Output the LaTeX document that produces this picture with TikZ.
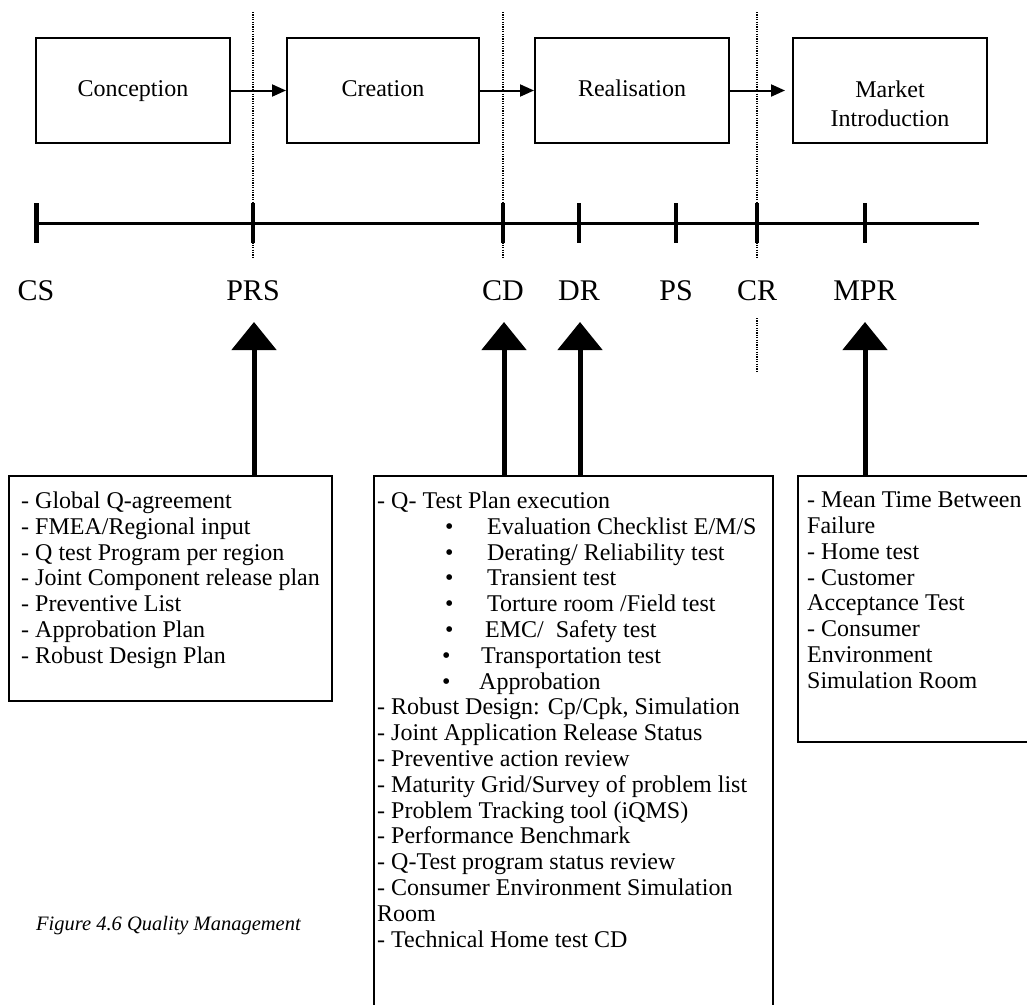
\documentclass[tikz,border=0pt]{standalone}
\usepackage{fontspec}
\setmainfont{Liberation Serif}
\usetikzlibrary{arrows.meta}
\begin{document}
\begin{tikzpicture}[x=1pt,y=-1pt,
  stage/.style={draw, line width=2pt, minimum width=194pt, minimum height=105pt, inner sep=0pt},
  stagetxt/.style={font=\fontsize{24}{29}\selectfont, align=center, inner sep=0pt},
  flow/.style={line width=2pt, -{Triangle[length=14pt,width=12pt]}},
  guide/.style={line width=1.2pt, dash pattern=on 1.2pt off 1.2pt},
  axis/.style={line width=3pt},
  tickmark/.style={line width=4pt},
  milestone/.style={font=\fontsize{30}{30}\selectfont, inner sep=0pt, anchor=base},
  feed/.style={line width=5pt, -{Triangle[length=28pt,width=44pt]}},
  listbox/.style={draw, line width=1.8pt, inner sep=0pt, anchor=north west},
  listtxt/.style={font=\fontsize{24}{25.8}\selectfont, align=left, inner sep=0pt, anchor=north west},
]
\useasboundingbox (0,0) rectangle (1027,1004);
\clip (0,0) rectangle (1027,1004);

% phase boxes
\node[stage] (conc) at (133,90.5) {};
\node[stage, minimum width=192pt] (crea) at (383,90.5) {};
\node[stage] (real) at (632,90.5) {};
\node[stage] (mkt) at (890,90.5) {};
\node[stagetxt, anchor=base] (conc-t) at (133,96) {Conception};
\node[stagetxt, anchor=base] (crea-t) at (383,96) {Creation};
\node[stagetxt, anchor=base] (real-t) at (632,96) {Realisation};
\node[stagetxt, anchor=north] (mkt-t) at (890,80.5) {Market\\Introduction};

% phase gates (dotted)
\coordinate (g1t) at (253,12);  \coordinate (g1b) at (253,258);
\coordinate (g2t) at (503,12);  \coordinate (g2b) at (503,258);
\coordinate (g3t) at (757,12);  \coordinate (g3b) at (757,258);
\coordinate (g4t) at (757,318); \coordinate (g4b) at (757,372);
\draw[guide] (g1t) -- (g1b);
\draw[guide] (g2t) -- (g2b);
\draw[guide] (g3t) -- (g3b);
\draw[guide] (g4t) -- (g4b);

% flow between phases
\draw[flow] (conc.east) -- (crea.west);
\draw[flow] (crea.east) -- (real.west);
\draw[flow, shorten >=7pt] (real.east) -- (mkt.west);

% milestone axis
\coordinate (m-cs) at (36,223);
\coordinate (m-prs) at (253,223);
\coordinate (m-cd) at (503,223);
\coordinate (m-dr) at (579,223);
\coordinate (m-ps) at (676,223);
\coordinate (m-cr) at (757,223);
\coordinate (m-mpr) at (865,223);
\coordinate (axis-end) at (979,223);
\draw[axis] (m-cs) -- (axis-end);
\foreach \m in {prs,cd,dr,ps,cr,mpr}
  \draw[tickmark] ([yshift=20pt]m-\m) -- ([yshift=-20pt]m-\m);
\draw[line width=5pt] ([yshift=20pt]m-cs) -- ([yshift=-20pt]m-cs);

\node[milestone] (l-cs) at (36,300) {CS};
\node[milestone] (l-prs) at (253,300) {PRS};
\node[milestone] (l-cd) at (503,300) {CD};
\node[milestone] (l-dr) at (579,300) {DR};
\node[milestone] (l-ps) at (676,300) {PS};
\node[milestone] (l-cr) at (757,300) {CR};
\node[milestone] (l-mpr) at (865,300) {MPR};

% activity boxes
\node[listbox, minimum width=323pt, minimum height=225pt] (prsbox) at (8,475) {};
\node[listbox, minimum width=399pt, minimum height=560pt] (cdbox) at (373,475) {};
\node[listbox, minimum width=250pt, minimum height=266pt] (mprbox) at (797,475) {};

\node[listtxt] (prs-list) at (21,491.6) {%
- Global Q-agreement\\
- FMEA/Regional input\\
- Q test Program per region\\
- Joint Component release plan\\
- Preventive List\\
- Approbation Plan\\
- Robust Design Plan};

\node[listtxt] (cd-list) at (377,491.6) {%
- Q- Test Plan execution\\
\hspace*{68pt}\makebox[42pt][l]{\textbullet}Evaluation Checklist E/M/S\\
\hspace*{68pt}\makebox[42pt][l]{\textbullet}Derating/ Reliability test\\
\hspace*{68pt}\makebox[42pt][l]{\textbullet}Transient test\\
\hspace*{68pt}\makebox[42pt][l]{\textbullet}Torture room /Field test\\
\hspace*{68pt}\makebox[40pt][l]{\textbullet}EMC/~ Safety test\\
\hspace*{65pt}\makebox[39pt][l]{\textbullet}Transportation test\\
\hspace*{65pt}\makebox[37pt][l]{\textbullet}Approbation\\
- Robust Design: Cp/Cpk, Simulation\\
- Joint Application Release Status\\
- Preventive action review\\
- Maturity Grid/Survey of problem list\\
- Problem Tracking tool (iQMS)\\
- Performance Benchmark\\
- Q-Test program status review\\
- Consumer Environment Simulation\\
Room\\
- Technical Home test CD};

\node[listtxt] (mpr-list) at (807,491.6) {%
- Mean Time Between\\
Failure\\
- Home test\\
- Customer\\
Acceptance Test\\
- Consumer\\
Environment\\
Simulation Room};

% inputs feeding the milestones
\coordinate (in-prs) at (254,322);
\coordinate (in-cd) at (504,322);
\coordinate (in-dr) at (580,322);
\coordinate (in-mpr) at (865,322);
\draw[feed] (in-prs |- prsbox.north) -- (in-prs);
\draw[feed] (in-cd |- cdbox.north) -- (in-cd);
\draw[feed] (in-dr |- cdbox.north) -- (in-dr);
\draw[feed] (in-mpr |- mprbox.north) -- (in-mpr);

% caption
\node[font=\fontsize{20.5}{24}\selectfont\itshape, anchor=base west, inner sep=0pt] (cap) at (36,930) {Figure 4.6 Quality Management};
\end{tikzpicture}
\end{document}
